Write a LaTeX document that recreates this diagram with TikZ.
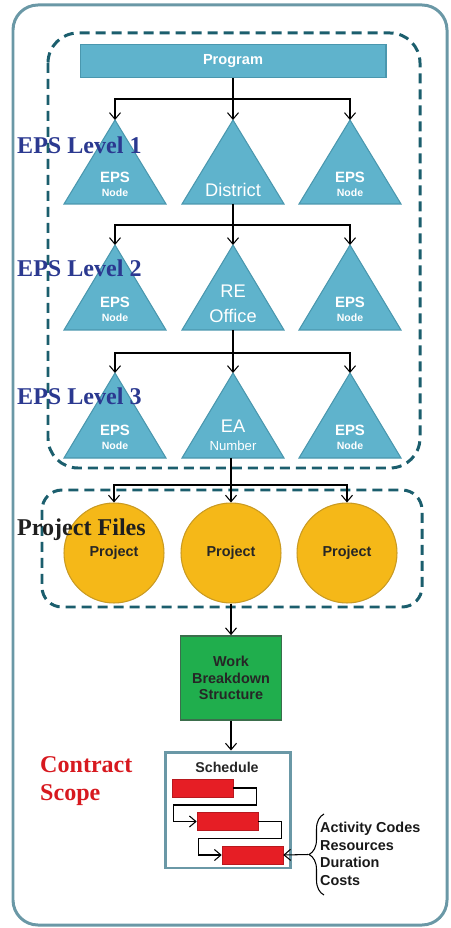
\documentclass[tikz,border=0pt]{standalone}
\usepackage{fontspec}
\setmainfont{Liberation Serif}
\setsansfont{Liberation Sans}
\usetikzlibrary{arrows.meta,decorations.pathreplacing}

\definecolor{tealfill}{HTML}{5FB3CC}
\definecolor{tealedge}{HTML}{4A97AE}
\definecolor{dashteal}{HTML}{1B5E6D}
\definecolor{framegrey}{HTML}{6A98A6}
\definecolor{projgold}{HTML}{F5B818}
\definecolor{goldedge}{HTML}{C99A22}
\definecolor{wbsgreen}{HTML}{20AE4D}
\definecolor{wbsedge}{HTML}{3B6E4C}
\definecolor{barred}{HTML}{E61E25}
\definecolor{lvlblue}{HTML}{2B3990}
\definecolor{scopered}{HTML}{D7191F}

\begin{document}
\begin{tikzpicture}[x=0.02cm, y=-0.02cm,
  link/.style={black, line width=0.6pt, -{Straight Barb[length=1.3mm, width=2.2mm]}},
  plain/.style={black, line width=0.6pt},
  group/.style={dashteal, line width=1.7pt, dash pattern=on 0.2cm off 0.12cm},
  tri/.style={fill=tealfill, draw=tealedge, line width=0.6pt},
  epsnode/.style={text=white, align=center, font=\sffamily\bfseries\fontsize{8.5}{8}\selectfont},
  bignode/.style={text=white, align=center, font=\sffamily\fontsize{10.4}{14}\selectfont},
  level/.style={anchor=west, text=lvlblue, font=\bfseries\fontsize{13.7}{16}\selectfont},
  proj/.style={circle, minimum size=2cm, fill=projgold, draw=goldedge, line width=0.6pt,
    text=black!85, font=\sffamily\bfseries\fontsize{8.2}{10}\selectfont},
  bar/.style={fill=barred, draw=barred!80!black, line width=0.3pt, minimum width=1.22cm,
    minimum height=0.36cm, inner sep=0pt}]

\useasboundingbox (0,0) rectangle (450,928);

% frame and groups
\draw[framegrey, line width=1.7pt, rounded corners=0.5cm] (13,5) rectangle (447,925);
\draw[group, rounded corners=0.6cm] (48,33) rectangle (420,468);
\draw[group, rounded corners=0.4cm] (42,490) rectangle (422,607);

% program bar
\node[fill=tealfill, draw=tealedge, line width=0.6pt, minimum width=6.12cm, minimum height=0.66cm,
  text=white, font=\sffamily\bfseries\fontsize{8.3}{10}\selectfont] (prog) at (233,61) {Program};

% EPS triangles, level 1 to 3
\foreach \n/\x in {a/115, b/233, c/350} {
  \filldraw[tri] (\x-51,204) -- (\x+51,204) -- (\x,120) -- cycle;
  \coordinate (l1\n-top) at (\x,120);
  \coordinate (l1\n-bot) at (\x,204);
  \filldraw[tri] (\x-51,330) -- (\x+51,330) -- (\x,245) -- cycle;
  \coordinate (l2\n-top) at (\x,245);
  \coordinate (l2\n-bot) at (\x,330);
  \filldraw[tri] (\x-51,458) -- (\x+51,458) -- (\x,373) -- cycle;
  \coordinate (l3\n-top) at (\x,373);
  \coordinate (l3\n-bot) at (\x,458);
}
\node[epsnode] (l1a) at (115,184) {EPS\\{\fontsize{6}{7}\selectfont Node}};
\node[bignode] (l1b) at (233,190) {District};
\node[epsnode] (l1c) at (350,184) {EPS\\{\fontsize{6}{7}\selectfont Node}};
\node[epsnode] (l2a) at (115,309) {EPS\\{\fontsize{6}{7}\selectfont Node}};
\node[bignode] (l2b) at (233,304) {RE\\Office};
\node[epsnode] (l2c) at (350,309) {EPS\\{\fontsize{6}{7}\selectfont Node}};
\node[epsnode] (l3a) at (115,437) {EPS\\{\fontsize{6}{7}\selectfont Node}};
\node[epsnode, font=\sffamily\fontsize{10.4}{10}\selectfont] (l3b) at (233,435) {EA\\{\fontsize{7.5}{9}\selectfont Number}};
\node[epsnode] (l3c) at (350,437) {EPS\\{\fontsize{6}{7}\selectfont Node}};

% tree connectors
\coordinate (j1) at (233,99);
\draw[link] (prog.south) -- (l1b-top);
\draw[link] (j1) -| (l1a-top);
\draw[link] (j1) -| (l1c-top);
\coordinate (j2) at (233,225);
\draw[link] (l1b-bot) -- (l2b-top);
\draw[link] (j2) -| (l2a-top);
\draw[link] (j2) -| (l2c-top);
\coordinate (j3) at (233,353);
\draw[link] (l2b-bot) -- (l3b-top);
\draw[link] (j3) -| (l3a-top);
\draw[link] (j3) -| (l3c-top);

% project files
\node[proj] (p1) at (114,553) {Project};
\node[proj] (p2) at (231,553) {Project};
\node[proj] (p3) at (347,553) {Project};
\coordinate (j4) at (231,485);
\draw[plain] (j4 |- l3b-bot) -- (j4);
\draw[link] (j4) -| (p1.north);
\draw[link] (j4) -- (p2.north);
\draw[link] (j4) -| (p3.north);

% wbs and schedule
\node[fill=wbsgreen, draw=wbsedge, line width=1pt, minimum width=2.02cm, minimum height=1.68cm,
  align=center, text=black!85, font=\sffamily\bfseries\fontsize{8.2}{9.5}\selectfont]
  (wbs) at (231,678) {Work\\Breakdown\\Structure};
\draw[link] (p2.south) -- (wbs.north);
\node[draw=framegrey, fill=white, line width=1.7pt, minimum width=2.5cm, minimum height=2.32cm]
  (sched) at (228,810) {};
\draw[link] (wbs.south) -- (wbs.south |- sched.north);
\node[text=black!85, font=\sffamily\bfseries\fontsize{8.1}{10}\selectfont] (schedlbl) at (227,767) {Schedule};
\node[bar] (b1) at (202.5,788) {};
\node[bar] (b2) at (227.5,821.5) {};
\node[bar] (b3) at (252.5,855) {};
\draw[link] (b1.east) -- ++(23,0) |- ++(-83,17) |- (b2.west);
\draw[link] (b2.east) -- ++(23,0) |- ++(-83,17) |- (b3.west);

% attributes
\draw[plain, decorate, decoration={brace, amplitude=0.3cm}] (324,895) -- (324,814);
\coordinate (btip) at (308,854.5);
\draw[link] (btip) -- (b3.east);
\node[anchor=west, align=left, text=black!90, font=\sffamily\bfseries\fontsize{8.2}{9.96}\selectfont]
  (acts) at (314,854) {Activity Codes\\Resources\\Duration\\Costs};

% level labels
\node[level] (lv1) at (11,145) {EPS Level 1};
\node[level] (lv2) at (11,268) {EPS Level 2};
\node[level] (lv3) at (11,396) {EPS Level 3};
\node[level, text=black!88] (pf) at (11,530) {Project Files};
\node[level, text=scopered, align=left] (cs) at (34,781) {Contract\\Scope};
\end{tikzpicture}
\end{document}
